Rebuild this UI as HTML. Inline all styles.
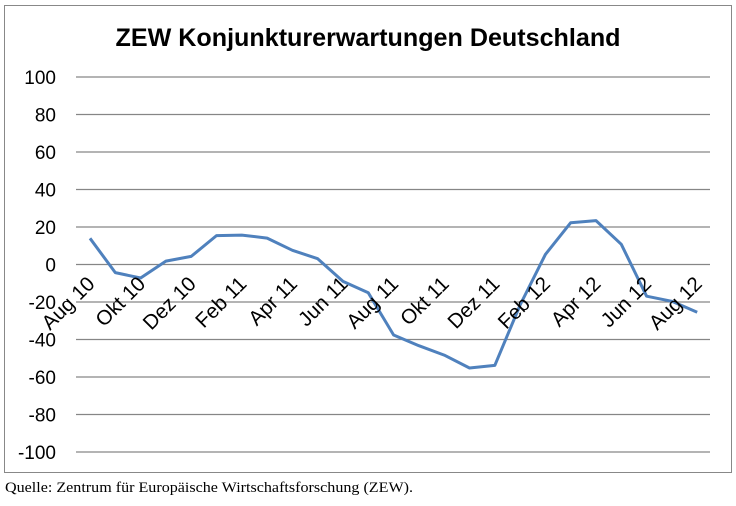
<!DOCTYPE html>
<html><head><meta charset="utf-8"><style>body{margin:0;background:#fff}svg{display:block}</style></head>
<body>
<svg width="736" height="506" xmlns="http://www.w3.org/2000/svg" font-family="Liberation Sans, sans-serif">
<rect x="4.5" y="5.5" width="727" height="467" fill="#fff" stroke="#888" stroke-width="1"/>
<text x="368" y="46" text-anchor="middle" font-size="25" font-weight="bold" textLength="505" lengthAdjust="spacingAndGlyphs">ZEW Konjunkturerwartungen Deutschland</text>
<g stroke="#868686" stroke-width="1.2">
<line x1="76" x2="710" y1="77" y2="77"/><line x1="76" x2="710" y1="114.5" y2="114.5"/>
<line x1="76" x2="710" y1="152" y2="152"/><line x1="76" x2="710" y1="189.5" y2="189.5"/>
<line x1="76" x2="710" y1="227" y2="227"/><line x1="76" x2="710" y1="264.5" y2="264.5"/>
<line x1="76" x2="710" y1="302" y2="302"/><line x1="76" x2="710" y1="339.5" y2="339.5"/>
<line x1="76" x2="710" y1="377" y2="377"/><line x1="76" x2="710" y1="414.5" y2="414.5"/>
<line x1="76" x2="710" y1="452" y2="452"/>
</g>
<g font-size="19" text-anchor="end" fill="#000">
<text x="56" y="84">100</text><text x="56" y="121.5">80</text><text x="56" y="159">60</text>
<text x="56" y="196.5">40</text><text x="56" y="234">20</text><text x="56" y="271.5">0</text>
<text x="56" y="309">-20</text><text x="56" y="346.5">-40</text><text x="56" y="384">-60</text>
<text x="56" y="421.5">-80</text><text x="56" y="459">-100</text>
</g>
<polyline fill="none" stroke="#4F81BD" stroke-width="3" stroke-linejoin="round" points="90,238.3 115.3,272.6 140.6,278 165.9,261.1 191.2,256.4 216.5,235.6 241.8,235.1 267.1,238.1 292.4,250.3 317.7,258.7 343,281.4 368.3,292.8 393.6,335 418.9,345.7 444.2,355.1 469.5,368 494.8,365.4 520.1,305 545.4,254.4 570.7,222.7 596,220.6 621.3,244.3 646.6,296.2 671.9,301.3 697.2,312.3"/>
<g font-size="20.5" text-anchor="end" fill="#000">
<text transform="translate(96,285) rotate(-45)">Aug 10</text>
<text transform="translate(146.6,285) rotate(-45)">Okt 10</text>
<text transform="translate(197.2,285) rotate(-45)">Dez 10</text>
<text transform="translate(247.8,285) rotate(-45)">Feb 11</text>
<text transform="translate(298.4,285) rotate(-45)">Apr 11</text>
<text transform="translate(349,285) rotate(-45)">Jun 11</text>
<text transform="translate(399.6,285) rotate(-45)">Aug 11</text>
<text transform="translate(450.2,285) rotate(-45)">Okt 11</text>
<text transform="translate(500.8,285) rotate(-45)">Dez 11</text>
<text transform="translate(551.4,285) rotate(-45)">Feb 12</text>
<text transform="translate(602,285) rotate(-45)">Apr 12</text>
<text transform="translate(652.6,285) rotate(-45)">Jun 12</text>
<text transform="translate(703.2,285) rotate(-45)">Aug 12</text>
</g>
<text x="5" y="492" font-family="Liberation Serif, serif" font-size="15" textLength="408" lengthAdjust="spacingAndGlyphs">Quelle: Zentrum für Europäische Wirtschaftsforschung (ZEW).</text>
</svg>
</body></html>
